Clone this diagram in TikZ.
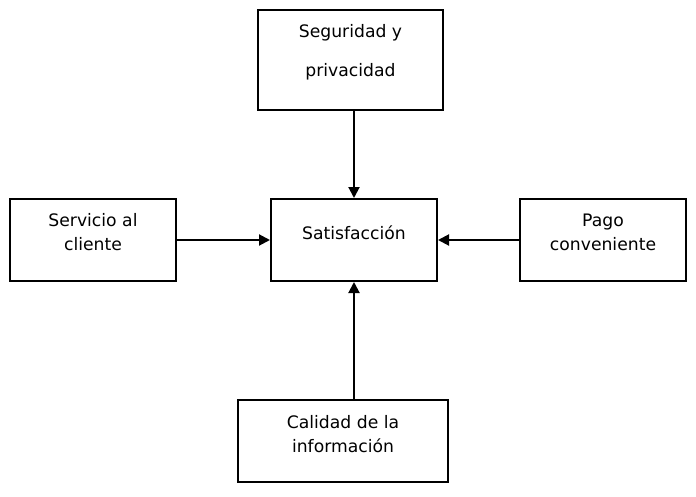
\documentclass[tikz,border=0pt]{standalone}
\usepackage{fontspec}
\setmainfont{DejaVu Sans}
\usetikzlibrary{arrows.meta,positioning}

\begin{document}
\begin{tikzpicture}[
    x=1pt, y=-1pt,
    box/.style={rectangle, draw, line width=2pt, inner sep=0pt},
    lbl/.style={align=center, font=\fontsize{17.2}{24}\selectfont},
    link/.style={-{Triangle[length=11pt,width=11pt]}, line width=2pt}
]
    \useasboundingbox (0,0) rectangle (696,496);
    % boxes
    \node[box, minimum width=185pt, minimum height=100pt] (segur) at (350.5,60) {};
    \node[box, minimum width=166pt, minimum height=82pt] (serv) at (93,240) {};
    \node[box, minimum width=166pt, minimum height=82pt] (satis) at (354,240) {};
    \node[box, minimum width=166pt, minimum height=82pt] (pago) at (603,240) {};
    \node[box, minimum width=210pt, minimum height=82pt] (calid) at (343,441) {};

    % texts
    \node[lbl, font=\fontsize{17.2}{39}\selectfont] (segurtxt) at ([yshift=8pt]segur.center) {Seguridad y\\privacidad};
    \node[lbl] (servtxt) at ([yshift=8pt]serv.center) {Servicio al\\cliente};
    \node[lbl] (satistxt) at ([yshift=7pt]satis.center) {Satisfacción};
    \node[lbl] (pagotxt) at ([yshift=8pt]pago.center) {Pago\\conveniente};
    \node[lbl] (calidtxt) at ([yshift=7pt]calid.center) {Calidad de la\\información};

    % arrows
    \draw[link] (satis.north |- segur.south) -- (satis.north);
    \draw[link] (serv.east) -- (satis.west);
    \draw[link] (pago.west) -- (satis.east);
    \draw[link] (satis.south |- calid.north) -- (satis.south);
\end{tikzpicture}
\end{document}
